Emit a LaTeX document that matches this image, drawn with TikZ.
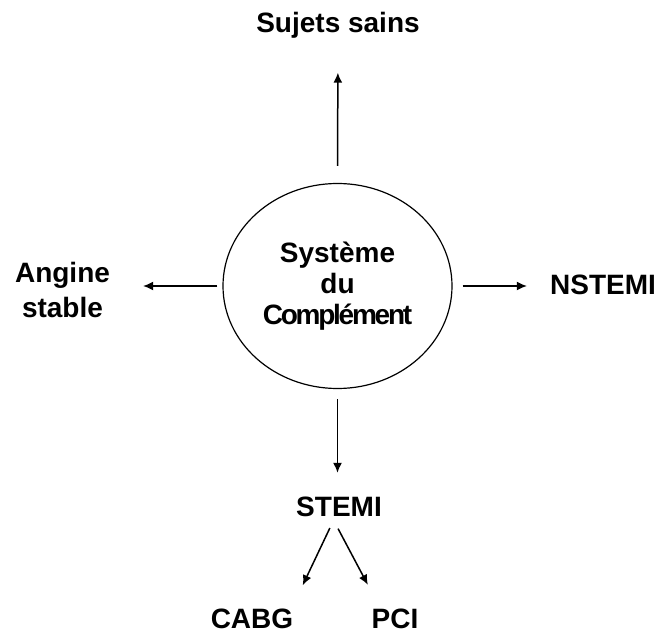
\documentclass[tikz,border=0pt]{standalone}
\usepackage{fontspec}
\setmainfont{Liberation Sans}
\usetikzlibrary{%
    arrows.meta,
    shapes.geometric
}
\tikzset{headarrow/.style = {-{Latex[length=10pt,width=9pt]}, line width=1.5pt}}
\tikzset{term/.style = {font=\bfseries\fontsize{28}{35}\selectfont, inner sep=0pt}}
\tikzset{system/.style = {term, ellipse, draw, line width=1.2pt, align=center,
    minimum width=229pt, minimum height=205pt, font=\bfseries\fontsize{28}{31}\selectfont}}

\begin{document}
\begin{tikzpicture}[x=1pt, y=-1pt]
    \useasboundingbox (0,0) rectangle (665,636);

    \node (sys) [system] at (337.5,286) {Système\\du\\{\addfontfeatures{LetterSpace=-8}Complément}};
    \node (sains) [term, text height=20pt, text depth=0pt] at (338,22.5) {Sujets sains};
    \node (angine) [term, align=center] at (62.5,290) {Angine\\stable};
    \node (nstemi) [term, text height=20pt, text depth=0pt] at (603,285) {NSTEMI};
    \node (stemi) [term, text height=20pt, text depth=0pt] at (339,507) {STEMI};
    \node (cabg) [term, text height=20pt, text depth=0pt] at (252,618) {CABG};
    \node (pci) [term, text height=20pt, text depth=0pt] at (395,618) {PCI};

    \draw[headarrow, shorten <=17pt, shorten >=40pt] (sys.north) -- (sains.south);
    \draw[headarrow, shorten <=5pt, shorten >=33pt] (sys.west) -- (sys.west -| angine.east);
    \draw[headarrow, shorten <=10pt, shorten >=23pt] (sys.east) -- (sys.east -| nstemi.west);
    \draw[headarrow, shorten <=10pt, shorten >=24pt] (sys.south) -- (sys.south |- stemi.north);

    \draw[headarrow, shorten <=12pt, shorten >=25pt] ([xshift=-4pt]stemi.south) -- ([xshift=40pt]cabg.north);
    \draw[headarrow, shorten <=13pt, shorten >=26pt] ([xshift=-7pt]stemi.south) -- ([xshift=-15pt]pci.north);
\end{tikzpicture}
\end{document}
